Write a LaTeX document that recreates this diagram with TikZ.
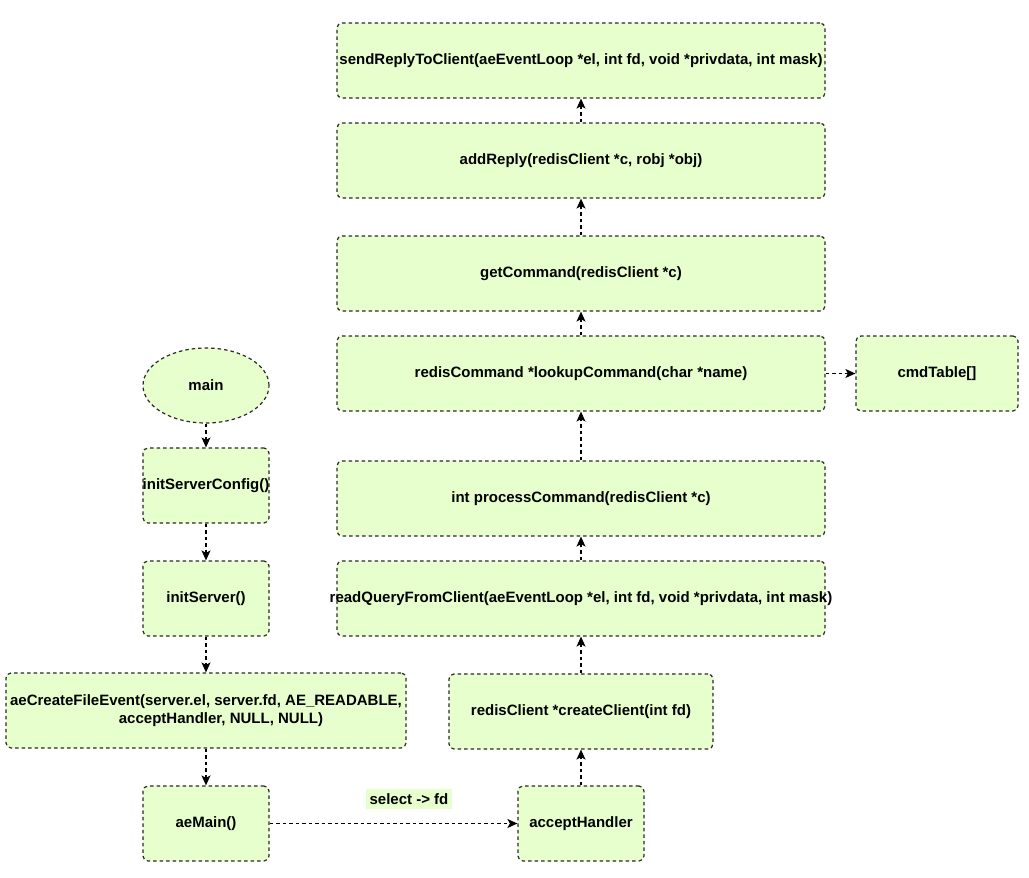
\documentclass[tikz,border=0pt]{standalone}
\usepackage{fontspec}
\setmainfont{Liberation Sans}
\usetikzlibrary{arrows.meta,shapes.geometric}
\definecolor{boxfill}{HTML}{E6FFCC}
\definecolor{boxline}{HTML}{2A2A2A}
\tikzset{
  x=1pt,y=-1pt,
  fbox/.style={draw=boxline,fill=boxfill,rounded corners=5pt,dash pattern=on 3.5pt off 3pt,line width=1.2pt,
    minimum height=75pt,inner sep=0pt,font=\bfseries\fontsize{15}{18}\selectfont,align=center},
  fell/.style={ellipse,draw=boxline,fill=boxfill,dash pattern=on 3.5pt off 3pt,line width=1.2pt,
    minimum width=126pt,minimum height=75pt,inner sep=0pt,font=\bfseries\fontsize{15}{18}\selectfont},
  conn/.style={draw=black,dash pattern=on 3.5pt off 3pt,line width=1.2pt,-{Stealth[length=10pt,width=9pt,inset=2.5pt]}},
  lbl/.style={fill=boxfill,inner xsep=4pt,inner ysep=4pt,font=\bfseries\fontsize{15}{18}\selectfont},
}
\begin{document}
\begin{tikzpicture}
\useasboundingbox (0,0) rectangle (1029,878);
\node[fbox,minimum width=488pt] (send) at (581,60.5) {\makebox[0pt][c]{sendReplyToClient(aeEventLoop *el, int fd, void *privdata, int mask)}};
\node[fbox,minimum width=488pt] (add) at (581,160.5) {addReply(redisClient *c, robj *obj)};
\node[fbox,minimum width=488pt] (get) at (581,273.5) {getCommand(redisClient *c)};
\node[fbox,minimum width=488pt] (look) at (581,373.5) {redisCommand *lookupCommand(char *name)};
\node[fbox,minimum width=162pt] (cmd) at (937,373.5) {cmdTable[]};
\node[fbox,minimum width=488pt] (proc) at (581,498.5) {int processCommand(redisClient *c)};
\node[fbox,minimum width=488pt] (read) at (581,598.5) {\makebox[0pt][c]{readQueryFromClient(aeEventLoop *el, int fd, void *privdata, int mask)}};
\node[fbox,minimum width=264pt] (create) at (581,711.5) {redisClient *createClient(int fd)};
\node[fbox,minimum width=126pt] (accept) at (581,823.5) {acceptHandler};
\node[fell] (main) at (206,385.5) {main};
\node[fbox,minimum width=126pt] (isc) at (206,485.5) {\makebox[0pt][c]{initServerConfig()}};
\node[fbox,minimum width=126pt] (is) at (206,598.5) {initServer()};
\node[fbox,minimum width=400pt] (ae) at (206,710.5) {\makebox[0pt][c]{aeCreateFileEvent(server.el, server.fd, AE\_READABLE,}\\\makebox[0pt][c]{\hspace*{30pt}acceptHandler, NULL, NULL)}};
\node[fbox,minimum width=126pt] (aemain) at (206,823.5) {aeMain()};
\node[lbl] (sel) at (409,799) {select -> fd};
\path[conn] (main) -- (isc);
\path[conn] (isc) -- (is);
\path[conn] (is) -- (ae);
\path[conn] (ae) -- (aemain);
\path[conn] (aemain) -- (accept);
\path[conn] (accept) -- (create);
\path[conn] (create) -- (read);
\path[conn] (read) -- (proc);
\path[conn] (proc) -- (look);
\path[conn] (look) -- (cmd);
\path[conn] (look) -- (get);
\path[conn] (get) -- (add);
\path[conn] (add) -- (send);
\end{tikzpicture}
\end{document}
